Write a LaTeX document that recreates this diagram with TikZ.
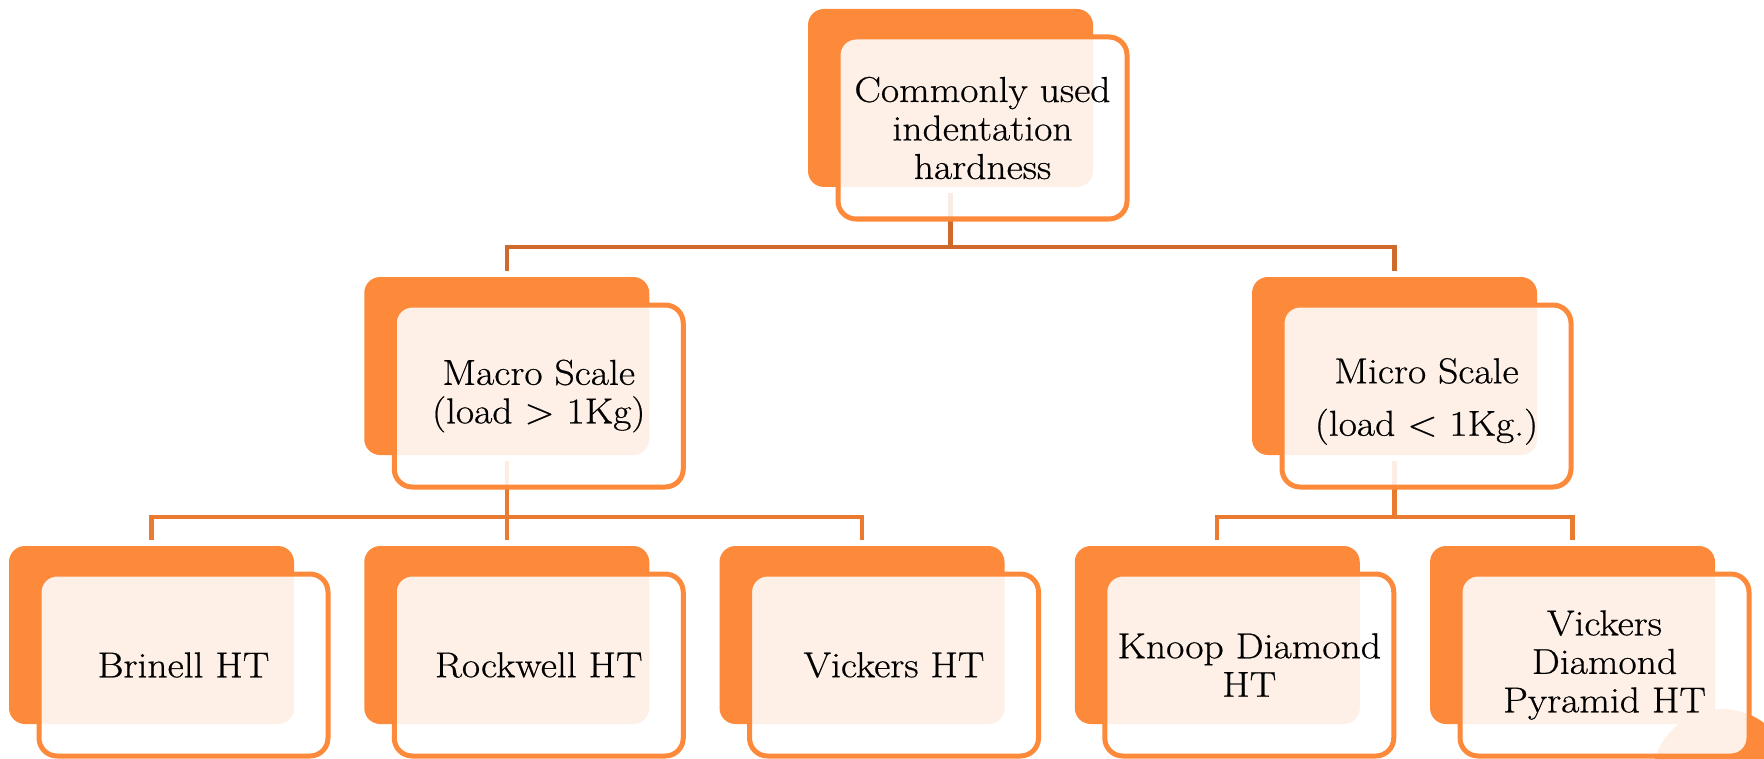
\documentclass[tikz,border=0pt]{standalone}
\usepackage{fontspec}
\setmainfont{Latin Modern Roman}[FakeStretch=1.1, FakeBold=0.6]
\definecolor{orng}{RGB}{253,137,58}
\definecolor{connA}{RGB}{208,106,44}
\definecolor{connB}{RGB}{233,122,48}
\begin{document}
\begin{tikzpicture}[x=0.5pt,y=-0.5pt,
  backbox/.style={anchor=north west, fill=orng, rounded corners=8pt,
    minimum width=142.5pt, minimum height=89pt, inner sep=0pt, outer sep=0pt},
  frontbox/.style={anchor=north west, draw=orng, line width=2.5pt, fill=white,
    fill opacity=0.88, text opacity=1, rounded corners=9pt,
    minimum width=144.5pt, minimum height=91pt, inner sep=2pt, outer sep=0pt,
    align=center, font=\fontsize{18}{19.25}\selectfont},
  conn/.style={line width=2.2pt, shorten <=3pt, shorten >=3pt},
  stub/.style={line width=2.2pt, shorten <=3pt}]
\useasboundingbox (0,0) rectangle (1764,759);
\clip (0,0) rectangle (1764,759);

% back boxes
\node[backbox] (topb)   at (808,9)     {};
\node[backbox] (macrob) at (364.25,277) {};
\node[backbox] (microb) at (1252,277)  {};
\node[backbox] (brib)   at (9,546)     {};
\node[backbox] (rockb)  at (364.25,546) {};
\node[backbox] (vicb)   at (719.5,546) {};
\node[backbox] (knoopb) at (1074.75,546) {};
\node[backbox] (vdpb)   at (1430,546)  {};

\coordinate (bus1) at (0,247);
\coordinate (bus2) at (0,517);

% connectors
\draw[stub, draw=connA] (topb.south) -- (topb.south |- bus1);
\draw[conn, draw=connA] (macrob.north) -- (macrob.north |- bus1) -- (microb.north |- bus1) -- (microb.north);
\draw[conn, draw=connB] (macrob.south) -- (rockb.north);
\draw[conn, draw=connB] (brib.north) -- (brib.north |- bus2) -- (vicb.north |- bus2) -- (vicb.north);
\draw[stub, draw=connB] (microb.south) -- (microb.south |- bus2);
\draw[conn, draw=connB] (knoopb.north) -- (knoopb.north |- bus2) -- (vdpb.north |- bus2) -- (vdpb.north);

% decoration in the lower right corner
\fill[orng] (1722,779) circle[radius=70];

% front boxes with text
\node[frontbox] (topf)   at ([xshift=15pt,yshift=-14pt]topb.north west)   {Commonly used\\indentation\\hardness};
\node[frontbox] (macrof) at ([xshift=15pt,yshift=-14pt]macrob.north west) {Macro Scale\\(load > 1Kg)};
\node[frontbox] (microf) at ([xshift=15pt,yshift=-14pt]microb.north west) {\rule{0pt}{18pt}Micro Scale\\[7pt](load < 1Kg.)};
\node[frontbox] (brif)   at ([xshift=15pt,yshift=-14pt]brib.north west)   {Brinell HT};
\node[frontbox] (rockf)  at ([xshift=15pt,yshift=-14pt]rockb.north west)  {Rockwell HT};
\node[frontbox] (vicf)   at ([xshift=15pt,yshift=-14pt]vicb.north west)   {Vickers HT};
\node[frontbox] (knoopf) at ([xshift=15pt,yshift=-14pt]knoopb.north west) {Knoop Diamond\\HT};
\node[frontbox] (vdpf)   at ([xshift=15pt,yshift=-14pt]vdpb.north west)   {Vickers\\Diamond\\Pyramid HT};
\end{tikzpicture}
\end{document}
